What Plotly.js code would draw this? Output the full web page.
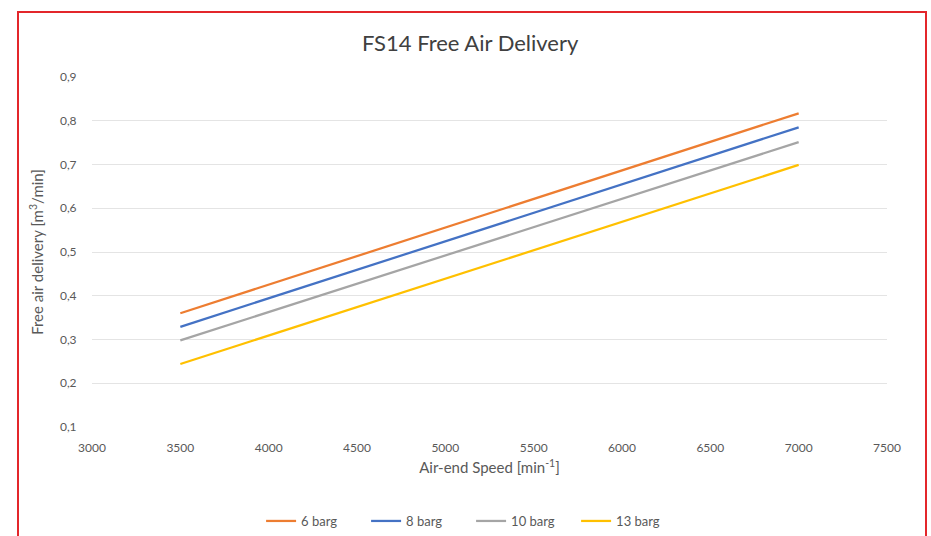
<!DOCTYPE html>
<html>
<head>
<meta charset="utf-8">
<script src="https://cdn.plot.ly/plotly-3.0.1.min.js"></script>
<style>
html,body{margin:0;padding:0;background:#fff;}
#wrap{position:relative;width:931px;height:536px;overflow:hidden;}
#chart{position:absolute;left:0;top:0;width:931px;height:536px;}
#frame{position:absolute;left:17px;top:11px;width:906px;height:540px;border:2px solid #e3262b;pointer-events:none;}
</style>
</head>
<body>
<div id="wrap"><div id="chart"></div><div id="frame"></div></div>
<script>
// Data
const speeds = [3500, 7000];
const seriesNames = ['6 barg', '8 barg', '10 barg', '13 barg'];
const fad6 = [0.36, 0.817];
const fad8 = [0.329, 0.785];
const fad10 = [0.298, 0.751];
const fad13 = [0.244, 0.699];
const xTicks = [3000, 3500, 4000, 4500, 5000, 5500, 6000, 6500, 7000, 7500];
const yTicks = [0.1, 0.2, 0.3, 0.4, 0.5, 0.6, 0.7, 0.8, 0.9];

const colors = ['#ED7D31', '#4472C4', '#A5A5A5', '#FFC000'];
const values = [fad6, fad8, fad10, fad13];

const FONT = 'Lato, "Open Sans", sans-serif';

const traces = values.map((v, i) => ({
  x: speeds,
  y: v,
  name: seriesNames[i],
  type: 'scatter',
  mode: 'lines',
  line: {color: colors[i], width: 2.25}
}));

const layout = {
  width: 931,
  height: 536,
  paper_bgcolor: '#ffffff',
  plot_bgcolor: '#ffffff',
  separators: ', ',
  margin: {l: 92, r: 44, t: 77, b: 109},
  font: {family: FONT, color: '#595959', size: 12},
  title: {
    text: 'FS14 Free Air Delivery',
    font: {family: FONT, size: 22, color: '#404040'},
    x: 0.505, xanchor: 'center',
    y: 1 - 43/536, yanchor: 'middle'
  },
  xaxis: {
    range: [3000, 7500],
    tickvals: xTicks,
    tickformat: 'd',
    automargin: false,
    showgrid: false,
    zeroline: false,
    showline: false,
    ticks: 'outside',
    ticklen: 10,
    tickcolor: 'rgba(0,0,0,0)',
    tickfont: {family: FONT, size: 12, color: '#595959'},
    title: {text: 'Air-end Speed [min<sup>-1</sup>]', font: {family: FONT, size: 15, color: '#595959'}, standoff: 8}
  },
  yaxis: {
    range: [0.1, 0.9],
    tickvals: yTicks,
    tickformat: '.1f',
    automargin: false,
    showgrid: true,
    gridcolor: '#e4e4e4',
    gridwidth: 1,
    zeroline: false,
    showline: false,
    ticks: 'outside',
    ticklen: 12,
    tickcolor: 'rgba(0,0,0,0)',
    tickfont: {family: FONT, size: 12, color: '#595959'},
    title: {text: 'Free air delivery [m<sup>3</sup>/min]', font: {family: FONT, size: 15, color: '#595959'}, standoff: 12}
  },
  showlegend: true,
  legend: {
    orientation: 'h',
    xref: 'container', yref: 'container',
    x: 0.506, xanchor: 'center',
    y: 1 - 521/536, yanchor: 'middle',
    font: {family: FONT, size: 13, color: '#595959'},
    entrywidth: 60,
    entrywidthmode: 'pixels',
    tracegroupgap: 0
  }
};

Plotly.newPlot('chart', traces, layout, {displayModeBar: false, staticPlot: true});
</script>
</body>
</html>
